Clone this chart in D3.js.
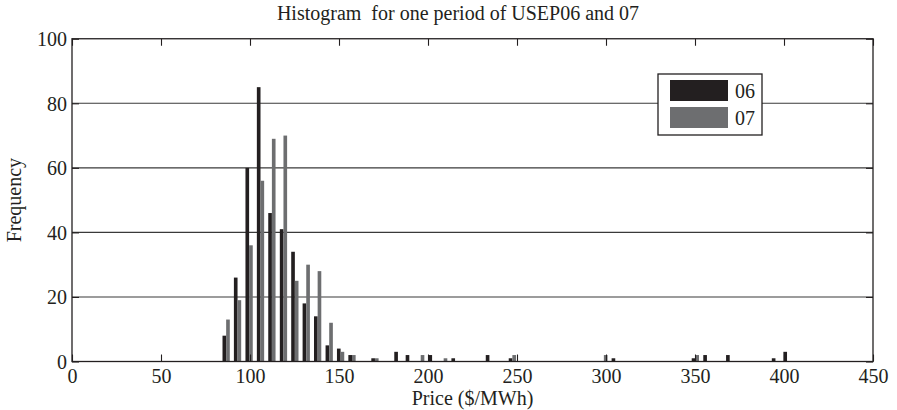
<!DOCTYPE html>
<html>
<head>
<meta charset="utf-8">
<script src="https://cdn.jsdelivr.net/npm/d3@7"></script>
<style>
  html, body { margin: 0; padding: 0; background: #fff; }
  svg { display: block; }
  text { font-family: "Liberation Serif", "DejaVu Serif", serif; fill: #231f20; }
</style>
</head>
<body>
<svg id="chart" width="897" height="410"></svg>
<script>
// ---- data ----
const binCenters = [86.6, 93.0, 99.5, 105.9, 112.3, 118.8, 125.2, 131.6, 138.0, 144.5,
  150.9, 157.3, 163.8, 170.2, 176.6, 183.1, 189.5, 195.9, 202.3, 208.8,
  215.2, 221.6, 228.1, 234.5, 240.9, 247.4, 253.8, 260.2, 266.6, 273.1,
  279.5, 285.9, 292.4, 298.8, 305.2, 311.7, 318.1, 324.5, 330.9, 337.4,
  343.8, 350.2, 356.7, 363.1, 369.5, 375.9, 382.4, 388.8, 395.2, 401.7];
const usep06 = [8, 26, 60, 85, 46, 41, 34, 18, 14, 5,
  4, 2, 0, 1, 0, 3, 2, 0, 2, 0,
  1, 0, 0, 2, 0, 1, 0, 0, 0, 0,
  0, 0, 0, 0, 1, 0, 0, 0, 0, 0,
  0, 1, 2, 0, 2, 0, 0, 0, 1, 3];
const usep07 = [13, 19, 36, 56, 69, 70, 25, 30, 28, 12,
  3, 2, 0, 1, 0, 0, 0, 2, 0, 1,
  0, 0, 0, 0, 0, 2, 0, 0, 0, 0,
  0, 0, 0, 2, 0, 0, 0, 0, 0, 0,
  0, 2, 0, 0, 0, 0, 0, 0, 0, 0];
const seriesNames = ["06", "07"];
const seriesColors = ["#231f20", "#6d6e70"];
const xTicks = [0, 50, 100, 150, 200, 250, 300, 350, 400, 450];
const yTicks = [0, 20, 40, 60, 80, 100];
const title = "Histogram\u00a0 for one period of USEP06 and 07";
const xLabel = "Price ($/MWh)";
const yLabel = "Frequency";

// ---- layout ----
const svg = d3.select("#chart");
const L = 72, R = 873, T = 38.75, B = 361.5;
const x = d3.scaleLinear().domain([0, 450]).range([L, R]);
const y = d3.scaleLinear().domain([0, 100]).range([B, T]);
const tickLen = 7;
const fs = 20;

// grid lines (y)
svg.append("g").selectAll("line")
  .data(yTicks.filter(d => d > 0 && d < 100))
  .join("line")
  .attr("x1", L).attr("x2", R)
  .attr("y1", d => y(d)).attr("y2", d => y(d))
  .attr("stroke", "#3a3a3a").attr("stroke-width", 1.1);

// bars
const step = x(binCenters[1]) - x(binCenters[0]);
const bw = step * 0.32;
const rows = binCenters.map((c, i) => ({ c, v: [usep06[i], usep07[i]] }));
const gBars = svg.append("g");
[0, 1].forEach(s => {
  gBars.append("g").selectAll("rect")
    .data(rows.filter(r => r.v[s] > 0))
    .join("rect")
    .attr("x", r => s === 0 ? x(r.c) - bw : x(r.c))
    .attr("width", bw)
    .attr("y", r => y(r.v[s]))
    .attr("height", r => y(0) - y(r.v[s]))
    .attr("fill", seriesColors[s]);
});

// axes (MATLAB style: inward ticks on all four sides)
const axB = d3.axisBottom(x).tickValues(xTicks).tickSizeInner(-tickLen).tickSizeOuter(0).tickPadding(10);
const gB = svg.append("g").attr("transform", `translate(0,${B})`).call(axB);
const axT = d3.axisTop(x).tickValues(xTicks).tickSizeInner(-tickLen).tickSizeOuter(0).tickFormat("");
const gT = svg.append("g").attr("transform", `translate(0,${T})`).call(axT);
const axL = d3.axisLeft(y).tickValues(yTicks).tickSizeInner(-tickLen).tickSizeOuter(0).tickPadding(6);
const gL = svg.append("g").attr("transform", `translate(${L},0)`).call(axL);
const axR = d3.axisRight(y).tickValues(yTicks).tickSizeInner(-tickLen).tickSizeOuter(0).tickFormat("");
const gR = svg.append("g").attr("transform", `translate(${R},0)`).call(axR);
[gB, gT, gL, gR].forEach(g => {
  g.select(".domain").remove();
  g.selectAll(".tick line").attr("stroke", "#231f20").attr("stroke-width", 1.1);
  g.selectAll(".tick text")
    .attr("font-family", "Liberation Serif, DejaVu Serif, serif")
    .attr("font-size", fs).attr("fill", "#231f20");
});
gB.selectAll(".tick text").attr("dy", null).attr("y", null)
  .attr("transform", "translate(0,21.5)");
gL.selectAll(".tick text").attr("dy", "0.34em").attr("x", -5);

// box
svg.append("rect")
  .attr("x", L).attr("y", T).attr("width", R - L).attr("height", B - T)
  .attr("fill", "none").attr("stroke", "#231f20").attr("stroke-width", 1.3);

// title and axis labels
svg.append("text").attr("x", 458).attr("y", 20)
  .attr("text-anchor", "middle").attr("font-size", fs).text(title);
svg.append("text").attr("x", (L + R) / 2).attr("y", 405)
  .attr("text-anchor", "middle").attr("font-size", fs).text(xLabel);
svg.append("text")
  .attr("transform", `translate(21,${(T + B) / 2}) rotate(-90)`)
  .attr("text-anchor", "middle").attr("font-size", fs).text(yLabel);

// legend
const lg = svg.append("g").attr("transform", "translate(658,74)");
lg.append("rect").attr("width", 104).attr("height", 61)
  .attr("fill", "#fff").attr("stroke", "#231f20").attr("stroke-width", 1.3);
seriesNames.forEach((n, i) => {
  lg.append("rect").attr("x", 12).attr("y", 6 + i * 27)
    .attr("width", 58).attr("height", 21).attr("fill", seriesColors[i]);
  lg.append("text").attr("x", 77).attr("y", 16.5 + i * 27)
    .attr("dy", "0.35em").attr("font-size", fs).text(n);
});
</script>
</body>
</html>
